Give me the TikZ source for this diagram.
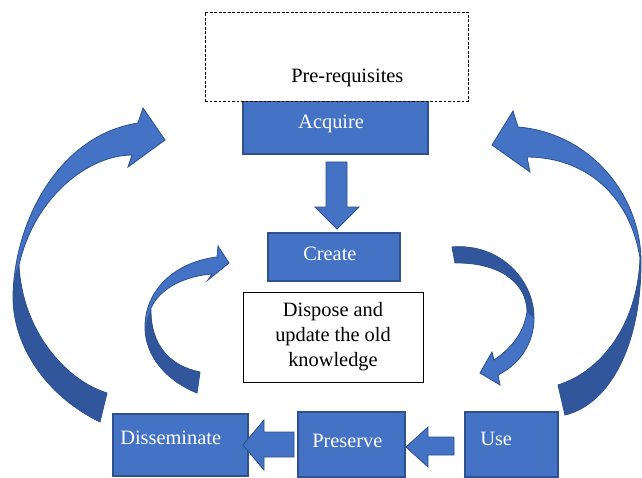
\documentclass[tikz,border=0pt]{standalone}
\usepackage{fontspec}
\setmainfont{Liberation Serif}
\usetikzlibrary{fit,positioning}
\definecolor{wordblue}{RGB}{68,114,196}
\definecolor{wordedge}{RGB}{47,82,143}
\definecolor{wordshade}{RGB}{50,86,156}
\tikzset{
  box/.style={draw=wordedge,fill=wordblue,line width=0.8pt,inner sep=0pt},
  note/.style={draw=black,fill=white,line width=0.6pt,inner sep=0pt,
    font=\fontsize{14.5}{17.8}\selectfont,align=center},
  plan/.style={draw=black,fill=white,line width=0.5pt,
    dash pattern=on 2pt off 1.2pt,inner sep=0pt},
  lbl/.style={font=\fontsize{14.5}{17.8}\selectfont,text=#1,inner sep=0pt,anchor=base west},
  lbl/.default=white,
  block/.style={fill=wordblue,draw=wordedge,line width=0.6pt,line join=miter},
  bent/.style={fill=wordblue},
  bent back/.style={fill=wordshade},
  bent edge/.style={draw=wordedge,line width=0.6pt,line join=miter},
}
% curved arrow: outline, darker back part
\newcommand{\curvedarrow}[2]{%
  \path[bent] #1; \path[bent back] #2; \path[bent edge] #1;}

\begin{document}
\begin{tikzpicture}[x=0.025cm,y=-0.025cm]
  \useasboundingbox (0,0) rectangle (642,478);
  % boxes
  \node[box,fit={(243,101) (428,154)}] (acquire) {};
  \node[plan,fit={(205,12) (468,101)}] (prereq) {};
  \node[box,fit={(268,233) (400,281)}] (create) {};
  \node[note,minimum width=4.5cm,minimum height=2.25cm] (dispose) at (333,337)
    {Dispose and\\update the old\\knowledge};
  \node[box,fit={(113,414) (248,476)}] (dissem) {};
  \node[box,fit={(298,412) (405,477)}] (preserve) {};
  \node[box,fit={(465,412) (558,477)}] (use) {};
  % labels
  \node[lbl=black] (prereqtxt) at (291,83) {Pre-requisites};
  \node[lbl] (acquiretxt) at (298,129) {Acquire};
  \node[lbl] (createtxt) at (303,260) {Create};
  \node[lbl] (dissemtxt) at (120,444) {Disseminate};
  \node[lbl] (preservetxt) at (312,447) {Preserve};
  \node[lbl] (usetxt) at (480,445) {Use};
  % block arrows
  \draw[block] (326,162) -- (347,162) -- (347,207) -- (359,207) -- (337,229)
    -- (315,207) -- (326,207) -- cycle;
  \draw[block] (294,432) -- (264,432) -- (264,420) -- (243,445) -- (264,470)
    -- (264,457) -- (294,457) -- cycle;
  \draw[block] (454,437) -- (428,437) -- (428,427) -- (406,447) -- (428,467)
    -- (428,455) -- (454,455) -- cycle;
  % big left: Disseminate back to Acquire
  \curvedarrow{(100,422) .. controls (45,395) and (13,345) .. (13,297)
    .. controls (14,220) and (60,135) .. (138,123) -- (143,108) -- (165,140)
    -- (128,167) -- (132,155) .. controls (90,155) and (35,195) .. (19,265)
    .. controls (22,330) and (65,380) .. (107,393) -- cycle}
   {(100,422) .. controls (45,395) and (13,345) .. (13,297)
    .. controls (13,285) and (15,272) .. (19,265)
    .. controls (22,330) and (65,380) .. (107,393) -- cycle}
  % big right: Use back to Acquire
  \curvedarrow{(565,415) .. controls (610,404) and (641,345) .. (641,262)
    .. controls (641,195) and (590,133) .. (518,127) -- (513,111) -- (492,145)
    -- (530,172) -- (527,157) .. controls (585,157) and (630,195) .. (640,258)
    .. controls (638,320) and (605,370) .. (558,385) -- cycle}
   {(565,415) .. controls (610,404) and (641,345) .. (641,262) -- (640,258)
    .. controls (638,320) and (605,370) .. (558,385) -- cycle}
  % small left: towards Create
  \curvedarrow{(197,393) .. controls (165,380) and (145,355) .. (145,327)
    .. controls (145,290) and (175,262) .. (217,257) -- (218,246) -- (229,263)
    -- (208,280) -- (212,274) .. controls (185,276) and (160,288) .. (151,308)
    .. controls (150,345) and (170,366) .. (200,372) -- cycle}
   {(197,393) .. controls (165,380) and (145,355) .. (145,327) -- (151,308)
    .. controls (150,345) and (170,366) .. (200,372) -- cycle}
  % small right: from Create down
  \curvedarrow{(452,247) .. controls (500,243) and (534,280) .. (534,318)
    .. controls (534,345) and (518,365) .. (498,375) -- (500,385) -- (480,373)
    -- (492,352) -- (494,360) .. controls (512,348) and (524,332) .. (527,312)
    .. controls (527,280) and (495,262) .. (455,263) -- cycle}
   {(452,247) .. controls (500,243) and (534,280) .. (534,318) -- (527,312)
    .. controls (527,280) and (495,262) .. (455,263) -- cycle}
\end{tikzpicture}
\end{document}
